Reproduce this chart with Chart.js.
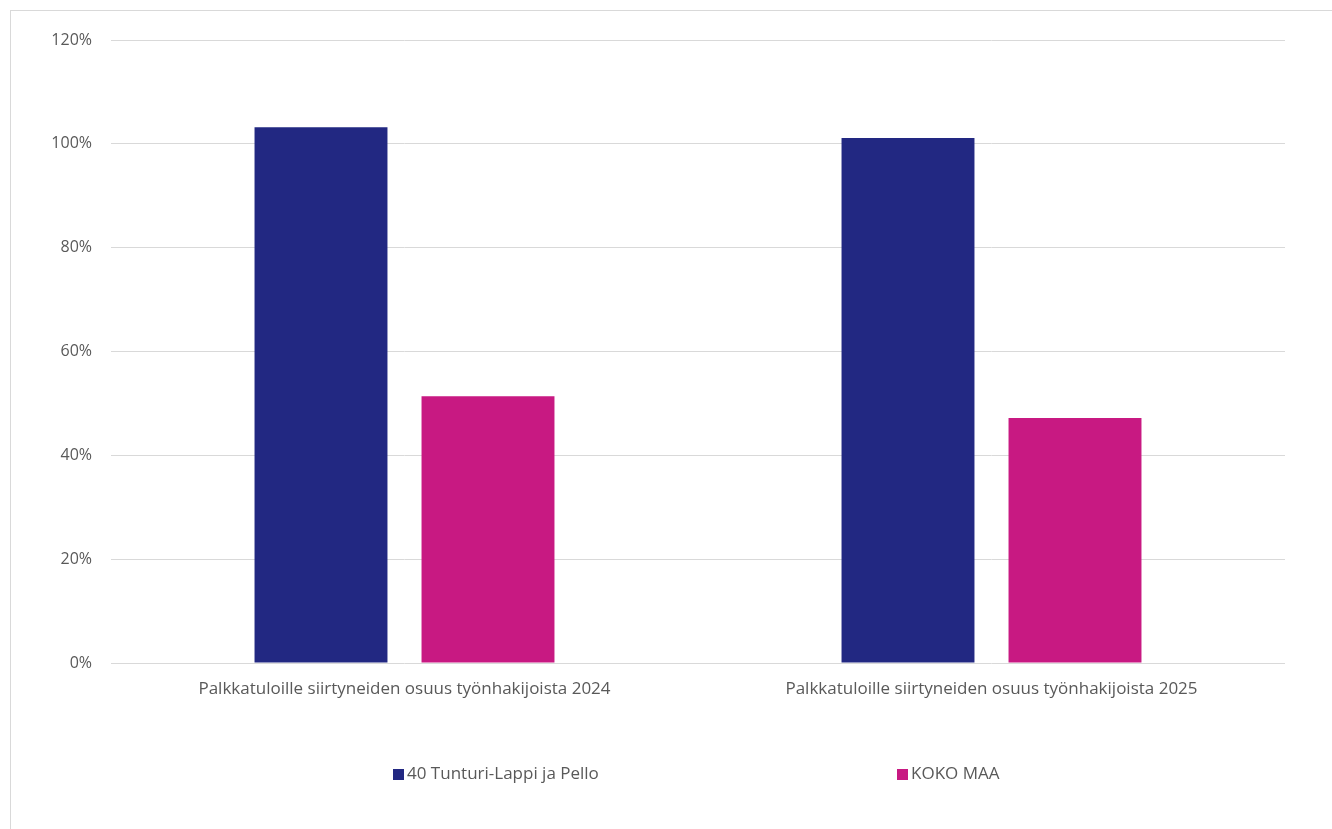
<!DOCTYPE html>
<html>
<head>
<meta charset="utf-8">
<script src="https://cdn.jsdelivr.net/npm/chart.js@4"></script>
<style>
    body { margin: 0; background: #fff; font-family: "Open Sans", sans-serif; }
    #frame { position: absolute; left: 10px; top: 10px; width: 1340px; height: 840px; border: 1px solid #d9d9d9; }
    #wrap { position: absolute; left: 0; top: 0; width: 1332px; height: 829px; }
    .legend-item { position: absolute; top: 761px; font-size: 17px; color: #595959; white-space: nowrap; }
    .legend-item span { display: inline-block; width: 11px; height: 11px; margin-right: 3px; vertical-align: -1px; }
</style>
</head>
<body>
<div id="frame"></div>
<div id="wrap"><canvas id="chart" width="1332" height="829"></canvas></div>
<div id="legend"></div>
<script>
const categories = [
    "Palkkatuloille siirtyneiden osuus työnhakijoista 2024",
    "Palkkatuloille siirtyneiden osuus työnhakijoista 2025"
];
const seriesNames = ["40 Tunturi-Lappi ja Pello", "KOKO MAA"];
const tunturiValues = [103.2, 101.1];
const kokoMaaValues = [51.4, 47.2];
const seriesColors = ["#222882", "#C81982"];
const yTicks = [0, 20, 40, 60, 80, 100, 120];

// Legend (spread like the original)
const legendX = [393, 897];
const legendEl = document.getElementById("legend");
seriesNames.forEach((name, i) => {
    const div = document.createElement("div");
    div.className = "legend-item";
    div.style.left = legendX[i] + "px";
    div.innerHTML = `<span style="background:${seriesColors[i]}"></span>${name}`;
    legendEl.appendChild(div);
});

const ctx = document.getElementById("chart").getContext("2d");
new Chart(ctx, {
    type: "bar",
    data: {
        labels: categories,
        datasets: [
            { label: seriesNames[0], data: tunturiValues, backgroundColor: seriesColors[0] },
            { label: seriesNames[1], data: kokoMaaValues, backgroundColor: seriesColors[1] }
        ]
    },
    options: {
        responsive: false,
        animation: false,
        categoryPercentage: 0.569,
        barPercentage: 0.796,
        layout: { padding: { top: 40, right: 47, left: 0, bottom: 0 } },
        scales: {
            y: {
                min: 0,
                max: 120,
                afterBuildTicks: (scale) => { scale.ticks = yTicks.map(v => ({ value: v })); },
                afterFit: (scale) => { scale.width = 111; },
                grid: { color: "#d9d9d9", drawTicks: false },
                border: { display: false },
                ticks: {
                    padding: 19,
                    color: "#595959",
                    font: { family: "Open Sans", size: 16 },
                    callback: (v) => v + "%"
                }
            },
            x: {
                afterFit: (scale) => { scale.height = 166; },
                grid: { display: false, drawTicks: false },
                border: { display: false },
                ticks: {
                    padding: 16,
                    color: "#595959",
                    font: { family: "Open Sans", size: 17 }
                }
            }
        },
        plugins: {
            legend: { display: false },
            tooltip: { enabled: false }
        }
    }
});
</script>
</body>
</html>
